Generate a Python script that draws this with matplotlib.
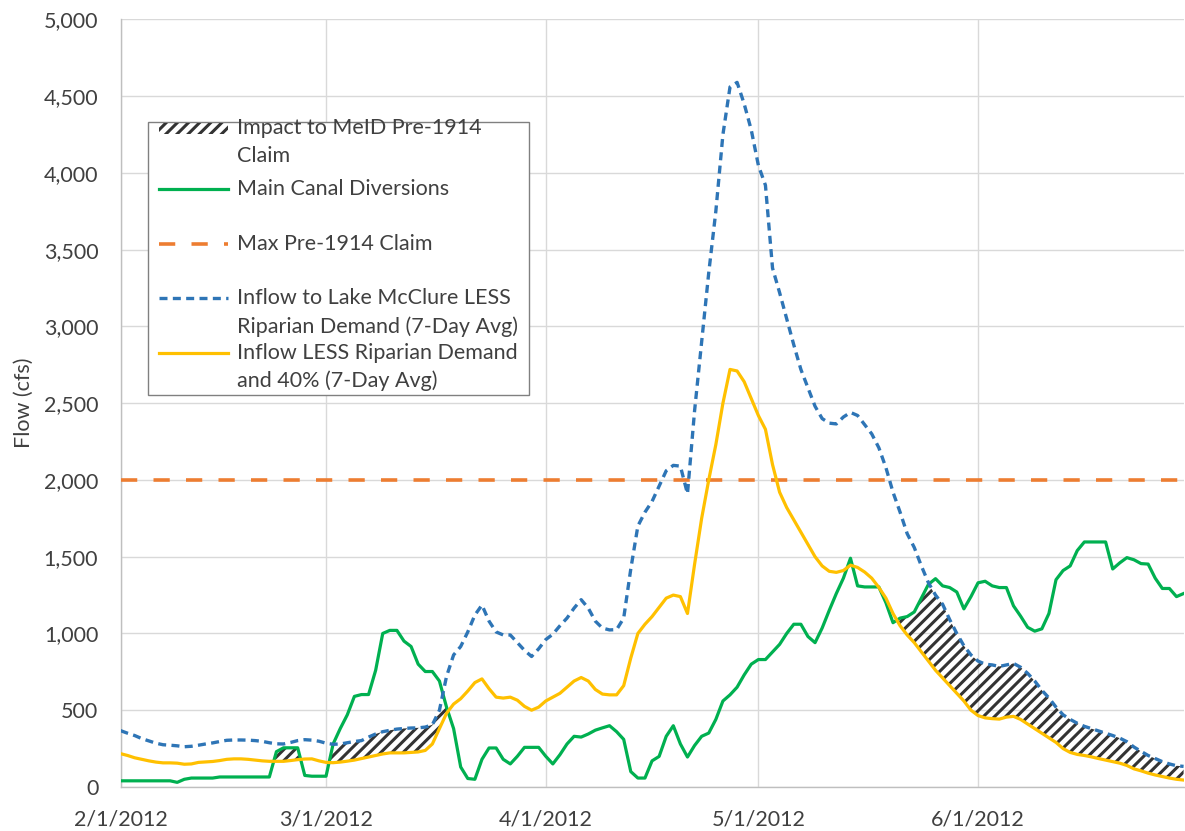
import numpy as np
import pandas as pd
import matplotlib
matplotlib.use("Agg")
import matplotlib.pyplot as plt
from matplotlib.patches import Rectangle
from matplotlib.ticker import StrMethodFormatter

plt.rcParams['font.family'] = ['Lato', 'DejaVu Sans']
plt.rcParams['hatch.linewidth'] = 2.2

# daily values 2/1/2012 - 6/30/2012 (cfs)
dates = pd.date_range('2012-02-01', '2012-06-30', freq='D')

diversions = [
    40, 40, 40, 40, 40, 40, 40, 40, 30, 50,
    58, 58, 58, 58, 65, 65, 65, 65, 65, 65,
    65, 65, 230, 255, 255, 255, 75, 70, 70, 70,
    280, 380, 470, 590, 602, 602, 760, 1000, 1020, 1020,
    950, 915, 800, 752, 752, 690, 520, 380, 130, 55,
    50, 180, 254, 254, 180, 150, 200, 258, 258, 258,
    200, 150, 210, 280, 330, 325, 345, 370, 385, 399,
    360, 310, 100, 58, 58, 170, 199, 330, 399, 280,
    195, 270, 330, 351, 440, 560, 600, 650, 730, 800,
    830, 830, 880, 929, 1000, 1060, 1060, 980, 940, 1035,
    1150, 1260, 1360, 1490, 1310, 1303, 1303, 1303, 1200, 1070,
    1100, 1110, 1140, 1230, 1320, 1357, 1310, 1299, 1270, 1160,
    1240, 1330, 1340, 1310, 1299, 1299, 1180, 1113, 1040, 1015,
    1030, 1130, 1350, 1410, 1440, 1540, 1596, 1596, 1596, 1596,
    1420, 1460, 1494, 1480, 1455, 1452, 1360, 1293, 1293, 1240,
    1260,
]

inflow = [
    367, 350, 335, 315, 300, 285, 275, 272, 268, 262,
    265, 272, 280, 287, 296, 304, 306, 306, 305, 302,
    297, 288, 281, 280, 290, 302, 308, 305, 298, 285,
    278, 280, 288, 296, 302, 325, 345, 360, 369, 377,
    381, 384, 385, 390, 405, 500, 720, 860, 915, 1010,
    1120, 1185, 1080, 1010, 990, 990, 940, 890, 850, 900,
    960, 995, 1050, 1100, 1165, 1220, 1165, 1080, 1035, 1023,
    1025, 1100, 1420, 1700, 1790, 1860, 1960, 2060, 2095, 2090,
    1910, 2450, 2900, 3350, 3750, 4250, 4560, 4590, 4450, 4280,
    4050, 3920, 3380, 3220, 3050, 2880, 2720, 2600, 2480, 2400,
    2370, 2365, 2410, 2440, 2420, 2360, 2300, 2210, 2080, 1920,
    1790, 1650, 1560, 1440, 1330, 1250, 1190, 1090, 1000, 920,
    860, 820, 800, 795, 785, 795, 805, 780, 740, 690,
    630, 580, 520, 470, 440, 415, 395, 380, 365, 350,
    335, 318, 295, 260, 232, 205, 185, 165, 150, 138,
    134,
]

inflow_40 = [
    217, 205, 190, 180, 170, 162, 157, 157, 155, 148,
    150, 160, 163, 166, 172, 180, 183, 183, 180, 175,
    170, 167, 167, 167, 172, 178, 182, 183, 170, 160,
    158, 162, 168, 175, 185, 195, 205, 215, 222, 222,
    222, 225, 228, 238, 280, 380, 480, 540, 575, 625,
    680, 704, 640, 585, 579, 585, 565, 525, 500, 520,
    560, 585, 610, 650, 690, 713, 690, 635, 605, 600,
    600, 660, 840, 1000, 1060, 1110, 1170, 1230, 1250, 1240,
    1130, 1450, 1750, 2000, 2230, 2500, 2720, 2710, 2640, 2530,
    2420, 2330, 2100, 1920, 1820, 1740, 1660, 1580, 1500, 1440,
    1405, 1398, 1410, 1445, 1430, 1400, 1360, 1300, 1230, 1130,
    1050, 990, 940, 880, 820, 760, 710, 660, 610, 560,
    500, 465, 450, 445, 442, 455, 460, 440, 410, 380,
    350, 320, 290, 250, 225, 212, 205, 196, 185, 175,
    165, 155, 140, 118, 105, 90, 78, 68, 58, 50,
    45,
]

max_claim = 2000

tick_dates = pd.to_datetime(['2012-02-01', '2012-03-01', '2012-04-01', '2012-05-01', '2012-06-01'])
tick_labels = ['2/1/2012', '3/1/2012', '4/1/2012', '5/1/2012', '6/1/2012']

labels = [
    'Impact to MeID Pre-1914\nClaim',
    'Main Canal Diversions',
    'Max Pre-1914 Claim',
    'Inflow to Lake McClure LESS\nRiparian Demand (7-Day Avg)',
    'Inflow LESS Riparian Demand\nand 40% (7-Day Avg)',
]

GREEN = '#00B050'
ORANGE = '#ED7D31'
BLUE = '#2E75B6'
YELLOW = '#FFC000'
HATCH = '#333333'
TXT = '#404040'

div = np.array(diversions, dtype=float)
inf = np.array(inflow, dtype=float)
inf40 = np.array(inflow_40, dtype=float)
upper = np.minimum(div, inf)

fig = plt.figure(figsize=(11.85, 8.31), dpi=100)
ax = fig.add_axes([0.1017, 0.0530, 0.8971, 0.9236])

# impact area: diversions above the 40% line, capped by inflow
ax.fill_between(dates, inf40, upper, where=upper > inf40, interpolate=True,
                facecolor='none', edgecolor=HATCH, hatch='///', linewidth=0, zorder=2)

ax.plot(dates, div, color=GREEN, lw=2.3, zorder=4)
ax.axhline(max_claim, color=ORANGE, lw=2.6, dashes=(4.5, 4.5), zorder=3)
ax.plot(dates, inf, color=BLUE, lw=2.4, dashes=(2.4, 1.6), zorder=4)
ax.plot(dates, inf40, color=YELLOW, lw=2.3, zorder=4)

ax.set_xlim(dates[0], dates[-1])
ax.set_ylim(0, 5000)
ax.set_yticks(np.arange(0, 5001, 500))
ax.yaxis.set_major_formatter(StrMethodFormatter('{x:,.0f}'))
ax.set_xticks(tick_dates)
ax.set_xticklabels(tick_labels)

ax.grid(True, color='#D9D9D9', lw=1.0, zorder=0)
ax.set_axisbelow(True)
for s in ['top', 'right']:
    ax.spines[s].set_visible(False)
for s in ['left', 'bottom']:
    ax.spines[s].set_color('#BFBFBF')
    ax.spines[s].set_linewidth(1.0)
ax.tick_params(length=0, labelsize=15.5, labelcolor=TXT)
ax.tick_params(axis='y', pad=16)
ax.tick_params(axis='x', pad=16)
ax.set_ylabel('Flow (cfs)', fontsize=15.5, color=TXT, labelpad=7)

# legend box drawn by hand so handles line up with the first text line
tr = ax.transAxes
ax.add_patch(Rectangle((0.0259, 0.5108), 0.3584, 0.3556, transform=tr,
                       facecolor='white', edgecolor='#808080', lw=1.0, zorder=6, clip_on=False))
hx0, hx1, tx = 0.0365, 0.1014, 0.1093
line_h = 0.0365
first_rows = [0.8586, 0.7788, 0.7075, 0.6367, 0.5659]

ax.add_patch(Rectangle((hx0, first_rows[0] - 0.0085), hx1 - hx0, 0.0145, transform=tr,
                       facecolor='none', edgecolor=HATCH, hatch='///', lw=0, zorder=7, clip_on=False))
ax.plot([hx0, hx1], [first_rows[1]] * 2, transform=tr, color=GREEN, lw=2.3, zorder=7, clip_on=False)
ax.plot([hx0, hx1], [first_rows[2]] * 2, transform=tr, color=ORANGE, lw=2.6, dashes=(4.5, 4.5),
        zorder=7, clip_on=False)
ax.plot([hx0, hx1], [first_rows[3]] * 2, transform=tr, color=BLUE, lw=2.4, dashes=(2.4, 1.6),
        zorder=7, clip_on=False)
ax.plot([hx0, hx1], [first_rows[4]] * 2, transform=tr, color=YELLOW, lw=2.3, zorder=7, clip_on=False)

for y0, lab in zip(first_rows, labels):
    for i, part in enumerate(lab.split('\n')):
        ax.text(tx, y0 - i * line_h, part, transform=tr, va='center', ha='left',
                fontsize=15.5, color=TXT, zorder=8)

fig.savefig('out.png', dpi=100)
